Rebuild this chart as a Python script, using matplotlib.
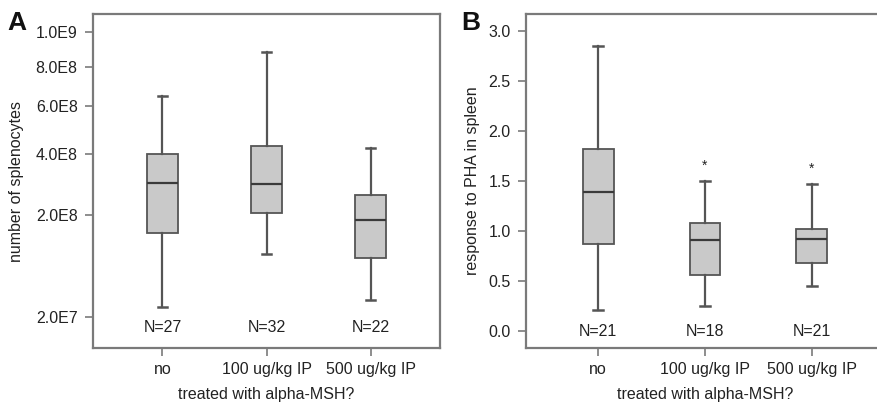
import numpy as np
import matplotlib
matplotlib.use("Agg")
import matplotlib.pyplot as plt
from matplotlib.transforms import blended_transform_factory

plt.rcParams['font.family'] = ['Liberation Sans', 'DejaVu Sans']

categories = ["no", "100 ug/kg IP", "500 ug/kg IP"]

# Panel A: number of splenocytes (whisker low, q1, median, q3, whisker high)
a_wlo = [2.94e7, 1.09e8, 3.68e7]
a_q1 = [1.54e8, 2.05e8, 1.02e8]
a_med = [2.95e8, 2.92e8, 1.87e8]
a_q3 = [4.0e8, 4.31e8, 2.58e8]
a_whi = [6.52e8, 8.83e8, 4.23e8]
a_n = [27, 32, 22]
a_ticks = [2.0e7, 2.0e8, 4.0e8, 6.0e8, 8.0e8, 1.0e9]
a_ticklabels = ["2.0E7", "2.0E8", "4.0E8", "6.0E8", "8.0E8", "1.0E9"]

# Panel B: response to PHA in spleen
b_wlo = [0.208, 0.251, 0.448]
b_q1 = [0.867, 0.566, 0.686]
b_med = [1.39, 0.907, 0.92]
b_q3 = [1.82, 1.078, 1.017]
b_whi = [2.85, 1.502, 1.469]
b_n = [21, 18, 21]
b_star = [None, 1.655, 1.62]
b_ticks = [0.0, 0.5, 1.0, 1.5, 2.0, 2.5, 3.0]

edge = "#555555"
fill = "#c9c9c9"
spine_c = "#7a7a7a"
text_c = "#222222"
fs = 11.5

fig = plt.figure(figsize=(8.77, 4.03), dpi=100)
axA = fig.add_axes([93/877, 1-348/403, 347/877, 334/403])
axB = fig.add_axes([526/877, 1-348/403, 358/877, 334/403])


def draw(ax, wlo, q1, med, q3, whi):
    stats = []
    for i in range(len(categories)):
        stats.append(dict(whislo=wlo[i], q1=q1[i], med=med[i], q3=q3[i],
                          whishi=whi[i], fliers=[], label=categories[i]))
    ax.bxp(stats, positions=[1, 2, 3], widths=0.29, showfliers=False,
           patch_artist=True,
           boxprops=dict(facecolor=fill, edgecolor=edge, linewidth=1.3),
           medianprops=dict(color="#3a3a3a", linewidth=1.6),
           whiskerprops=dict(color=edge, linewidth=1.6),
           capprops=dict(color=edge, linewidth=1.8),
           capwidths=0.09)


def style(ax, ylab_x):
    for s in ax.spines.values():
        s.set_color(spine_c)
        s.set_linewidth(1.6)
    ax.tick_params(axis='both', colors=spine_c, labelcolor=text_c,
                   labelsize=fs, length=6, width=1.2, direction='out')
    ax.tick_params(axis='x', pad=4)
    ax.tick_params(axis='y', pad=5)
    ax.set_xticks([1, 2, 3])
    ax.set_xticklabels(categories)
    ax.set_xlabel("treated with alpha-MSH?", fontsize=fs, color=text_c)
    ax.xaxis.label.set_va('center')
    ax.xaxis.set_label_coords(0.5, -(395 - 348) / 334)
    ax.yaxis.label.set_va('center')
    ax.yaxis.set_label_coords(ylab_x, 0.5)


# Panel A
axA.set_yscale('function', functions=(lambda v: np.sqrt(np.clip(v, 0, None)),
                                      np.square))
draw(axA, a_wlo, a_q1, a_med, a_q3, a_whi)
axA.set_xlim(0.333, 3.667)
axA.set_ylim(2.22e6, 1.109e9)
axA.set_yticks(a_ticks)
axA.set_yticklabels(a_ticklabels)
axA.minorticks_off()
axA.set_ylabel("number of splenocytes", fontsize=fs, color=text_c)
style(axA, (17 - 93) / 347)
trA = blended_transform_factory(axA.transData, axA.transAxes)
for i, n in enumerate(a_n):
    axA.text(i + 1, 0.06, f"N={n}", transform=trA, ha='center', va='center',
             fontsize=fs, color=text_c)

# Panel B
draw(axB, b_wlo, b_q1, b_med, b_q3, b_whi)
axB.set_xlim(0.324, 3.676)
axB.set_ylim(-0.17, 3.175)
axB.set_yticks(b_ticks)
axB.set_yticklabels([f"{t:.1f}" for t in b_ticks])
axB.set_ylabel("response to PHA in spleen", fontsize=fs, color=text_c)
style(axB, (472 - 526) / 358)
trB = blended_transform_factory(axB.transData, axB.transAxes)
for i, n in enumerate(b_n):
    axB.text(i + 1, 0.05, f"N={n}", transform=trB, ha='center', va='center',
             fontsize=fs, color=text_c)
for i, s in enumerate(b_star):
    if s is not None:
        axB.text(i + 1, s, "*", ha='center', va='center', fontsize=10,
                 color=text_c)

fig.text(7/877, 1-23/403, "A", fontsize=19, fontweight='bold', color="#111111",
         va='center', ha='left')
fig.text(461/877, 1-23/403, "B", fontsize=19, fontweight='bold', color="#111111",
         va='center', ha='left')

fig.savefig("out.png", dpi=100)
